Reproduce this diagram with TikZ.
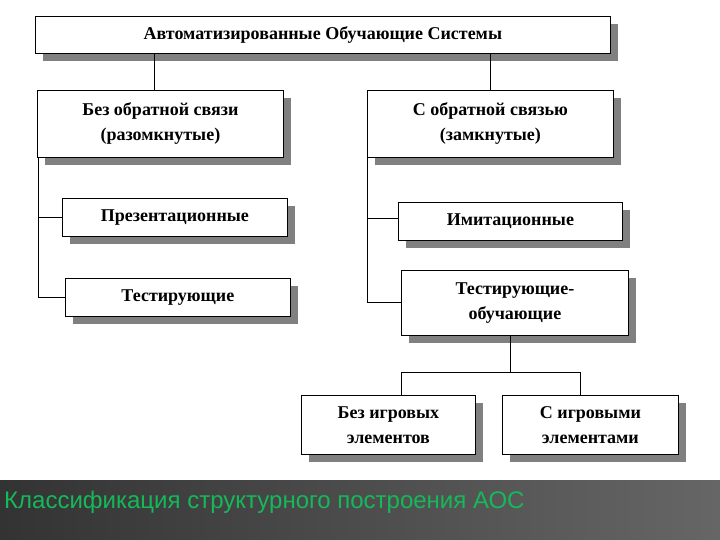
\documentclass[tikz,border=0pt]{standalone}
\usepackage{fontspec}
\setmainfont{Liberation Serif}
\newfontfamily\capfont{Liberation Sans}
\definecolor{capgreen}{RGB}{20,185,90}
\begin{document}
\begin{tikzpicture}[x=1pt,y=-1pt,
  bx/.style={draw=black,fill=white,line width=0.8pt,align=center,font=\bfseries\fontsize{18}{25}\selectfont,inner sep=0pt},
  ln/.style={draw=black,line width=0.6pt}]
\useasboundingbox (0,0) rectangle (720,540);
\fill[white] (0,0) rectangle (720,540);
\fill[left color=black!80,right color=black!60] (0,480) rectangle (720,540);
\node[anchor=west,text=capgreen,font=\capfont\fontsize{24}{28}\selectfont,inner sep=0pt] (cap) at (4,502) {Классификация структурного построения АОС};
\newcommand\myshbox[6]{%
  \fill[black!50] (#2+8,#3+8) rectangle (#4+8,#5+8);
  \node[bx,minimum width=#4-#2,minimum height=#5-#3,anchor=north west] (#1) at (#2,#3) {#6};}
\myshbox{top}{35}{16}{610}{53}{Автоматизированные Обучающие Системы}
\myshbox{l1}{37}{90}{283}{157}{Без обратной связи\\(разомкнутые)}
\myshbox{r1}{367}{90}{613}{157}{С обратной связью\\(замкнутые)}
\myshbox{pr}{62}{198}{287}{236}{Презентационные}
\myshbox{te}{65}{278}{290}{316}{Тестирующие}
\myshbox{im}{398}{202}{622}{240}{Имитационные}
\myshbox{tl}{401}{270}{628}{335}{Тестирующие-\\обучающие}
\myshbox{g1}{301}{395}{475}{454}{Без игровых\\элементов}
\myshbox{g2}{502}{395}{678}{454}{С игровыми\\элементами}
\coordinate (lb) at (38,297);
\coordinate (rb) at (367,302);
\coordinate (tm) at (510,372);
\draw[ln] (top.south -| 154,0) -- (l1.north -| 154,0);
\draw[ln] (top.south -| 490,0) -- (r1.north -| 490,0);
\draw[ln] (l1.south -| 38,0) -- (lb) -- (te.west |- lb);
\draw[ln] (38,217) -- (pr.west |- 0,217);
\draw[ln] (r1.south west) -- (rb) -- (tl.west |- rb);
\draw[ln] (367,218) -- (im.west |- 0,218);
\draw[ln] (tl.south -| tm) -- (tm);
\draw[ln] (g1.north -| 401,0) -- (401,372) -- (580,372) -- (g2.north -| 580,0);
\end{tikzpicture}
\end{document}
